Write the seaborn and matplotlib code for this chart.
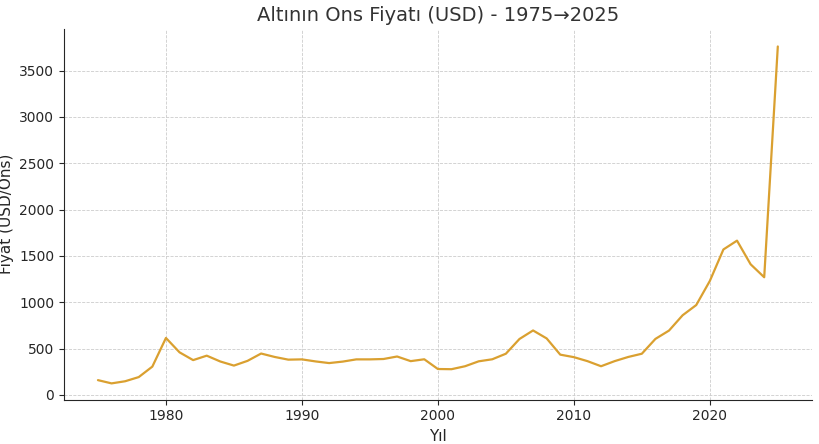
import matplotlib
matplotlib.use("Agg")
import matplotlib.pyplot as plt
import seaborn as sns
import pandas as pd

years = list(range(1975, 2026))
prices = [160, 125, 148, 193, 306, 615, 460, 376, 424, 361,
          317, 368, 447, 410, 381, 384, 362, 344, 360, 384,
          384, 388, 415, 365, 385, 280, 278, 310, 363, 385,
          445, 604, 696, 610, 435, 408, 365, 310, 365, 410,
          445, 605, 695, 860, 970, 1230, 1570, 1665, 1410, 1270,
          3760]

df = pd.DataFrame({"year": years, "price": prices})

sns.set_style("ticks")
plt.rcParams['font.family'] = ['DejaVu Sans']

fig, ax = plt.subplots(figsize=(8.2, 4.44), dpi=100)
sns.lineplot(data=df, x="year", y="price", color="#DAA030", linewidth=1.6, ax=ax)

ax.set_title("Altının Ons Fiyatı (USD) - 1975→2025", fontsize=14, color="#333333")
ax.set_xlabel("Yıl", fontsize=11)
ax.set_ylabel("Fiyat (USD/Ons)", fontsize=11)
ax.grid(True, linestyle="--", linewidth=0.6, color="#cccccc")
ax.set_xlim(1972.5, 2027.5)
ax.set_ylim(-50, 3950)
ax.set_yticks(range(0, 3501, 500))
ax.set_xticks([1980, 1990, 2000, 2010, 2020])
sns.despine(ax=ax)

fig.subplots_adjust(left=0.078, right=0.99, top=0.935, bottom=0.1)
fig.savefig("out.png")
plt.close(fig)
